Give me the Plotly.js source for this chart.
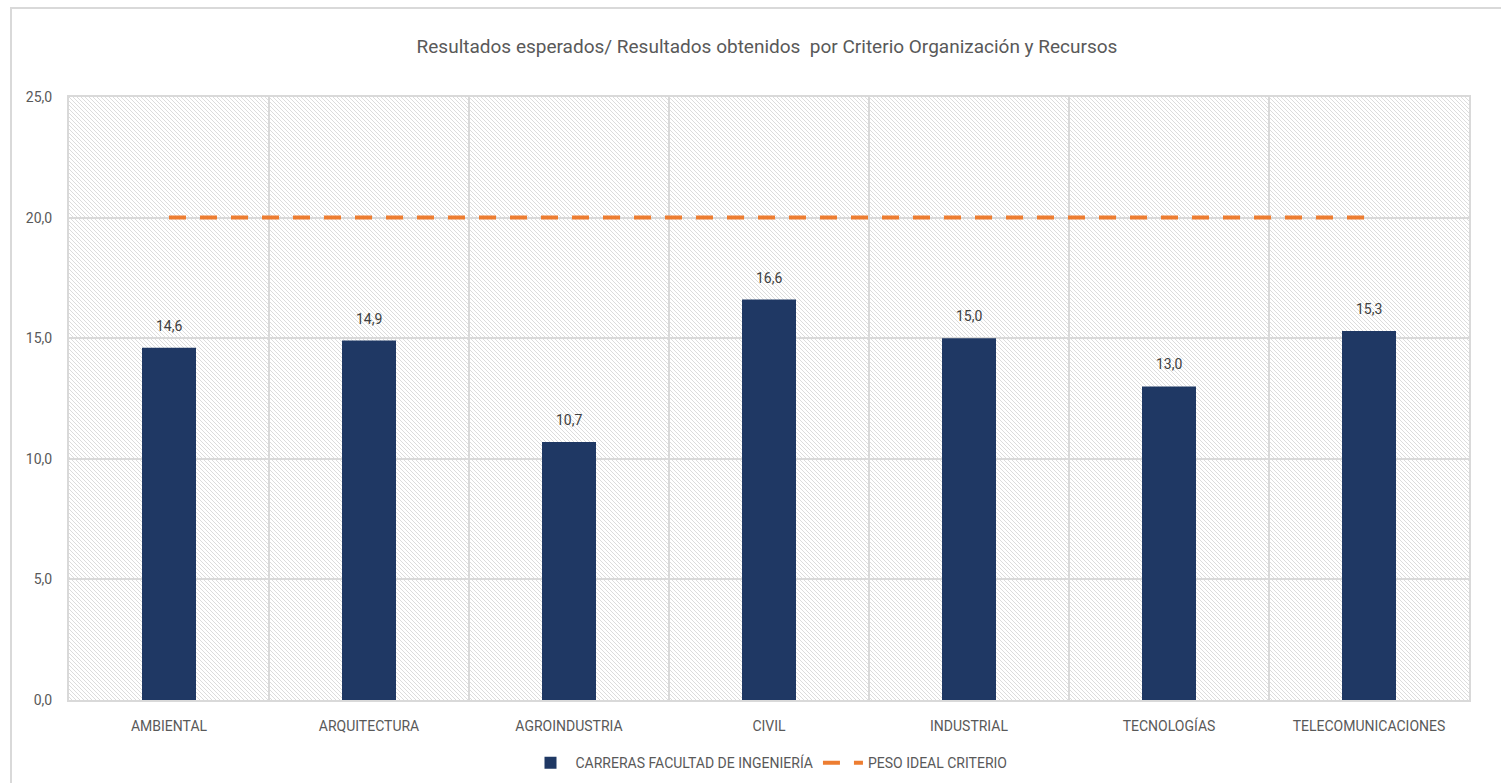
<!DOCTYPE html>
<html>
<head>
<meta charset="utf-8">
<script src="https://cdn.plot.ly/plotly-3.0.1.min.js"></script>
<style>
  html, body { margin: 0; padding: 0; background: #fff; }
  #wrap { position: relative; width: 1501px; height: 783px; overflow: hidden; }
  #frame { position: absolute; left: 10px; top: 7px; width: 1600px; height: 900px;
           border-top: 2px solid #d9d9d9; border-left: 2px solid #d9d9d9; box-sizing: border-box; }
  #hatch { position: absolute; left: 69px; top: 97px; width: 1400px; height: 603px;
           background-color: #ffffff;
           background-image: url("data:image/svg+xml,%3Csvg xmlns='http://www.w3.org/2000/svg' width='4' height='4' shape-rendering='crispEdges'%3E%3Crect x='0' y='0' width='1' height='1' fill='%23dcdcdc'/%3E%3Crect x='1' y='1' width='1' height='1' fill='%23dcdcdc'/%3E%3Crect x='2' y='2' width='1' height='1' fill='%23dcdcdc'/%3E%3Crect x='3' y='3' width='1' height='1' fill='%23dcdcdc'/%3E%3C/svg%3E");
           background-size: 4px 4px; background-repeat: repeat; image-rendering: pixelated; }
  #chart { position: absolute; left: 0; top: 0; width: 1501px; height: 783px; }
</style>
</head>
<body>
<div id="wrap">
  <div id="frame"></div>
  <div id="hatch"></div>
  <div id="chart"></div>
</div>
<script>
const categories = ["AMBIENTAL", "ARQUITECTURA", "AGROINDUSTRIA", "CIVIL", "INDUSTRIAL", "TECNOLOGÍAS", "TELECOMUNICACIONES"];
const carreras = [14.6, 14.9, 10.7, 16.6, 15.0, 13.0, 15.3];
const pesoIdeal = [20, 20, 20, 20, 20, 20, 20];
const yTicks = [0, 5, 10, 15, 20, 25];

const FONT = "Roboto, Noto Sans, sans-serif";

const traces = [
  {
    type: "bar",
    name: "CARRERAS FACULTAD DE INGENIERÍA",
    x: categories,
    y: carreras,
    width: 0.27,
    marker: { color: "#1f3864" },
    hoverinfo: "x+y"
  },
  {
    type: "scatter",
    mode: "lines",
    name: "PESO IDEAL CRITERIO",
    x: categories,
    y: pesoIdeal,
    line: { color: "#ed7d31", width: 4, dash: "17px,14px" }
  }
];

const labelAnnotations = categories.map((c, i) => ({
  x: c,
  y: carreras[i],
  xref: "x",
  yref: "y",
  text: carreras[i].toFixed(1).replace(".", ","),
  showarrow: false,
  yanchor: "bottom",
  yshift: 12,
  font: { family: FONT, size: 14, color: "#404040" }
}));

const layout = {
  width: 1501,
  height: 783,
  separators: ",.",
  paper_bgcolor: "rgba(0,0,0,0)",
  plot_bgcolor: "rgba(0,0,0,0)",
  margin: { l: 69, r: 32, t: 97, b: 83, pad: 0, autoexpand: false },
  font: { family: FONT, color: "#595959", size: 14 },
  title: {
    text: "Resultados esperados/ Resultados obtenidos  por Criterio Organización y Recursos",
    font: { family: FONT, size: 19, color: "#595959" },
    x: 0.511, xanchor: "center",
    y: 0.941, yanchor: "middle"
  },
  xaxis: {
    type: "category",
    tickson: "boundaries",
    showgrid: true,
    gridcolor: "#d9d9d9",
    gridwidth: 1.5,
    showline: true,
    linecolor: "#d9d9d9",
    linewidth: 2,
    mirror: true,
    ticks: "",
    ticklabelstandoff: 12,
    tickfont: { family: FONT, size: 14, color: "#595959" },
    zeroline: false,
    automargin: false
  },
  yaxis: {
    range: [0, 25],
    tickvals: yTicks,
    tickformat: ".1f",
    showgrid: true,
    gridcolor: "#d9d9d9",
    gridwidth: 1.5,
    showline: true,
    linecolor: "#d9d9d9",
    linewidth: 2,
    mirror: true,
    zeroline: false,
    ticks: "",
    ticklabelstandoff: 12,
    tickfont: { family: FONT, size: 14, color: "#595959" },
    automargin: false
  },
  annotations: labelAnnotations,
  showlegend: true,
  legend: {
    orientation: "h",
    x: 0.5, xanchor: "center",
    y: -0.078, yanchor: "top",
    font: { family: FONT, size: 14, color: "#595959" },
    itemwidth: 40
  }
};

Plotly.newPlot("chart", traces, layout, { displayModeBar: false });
</script>
</body>
</html>
